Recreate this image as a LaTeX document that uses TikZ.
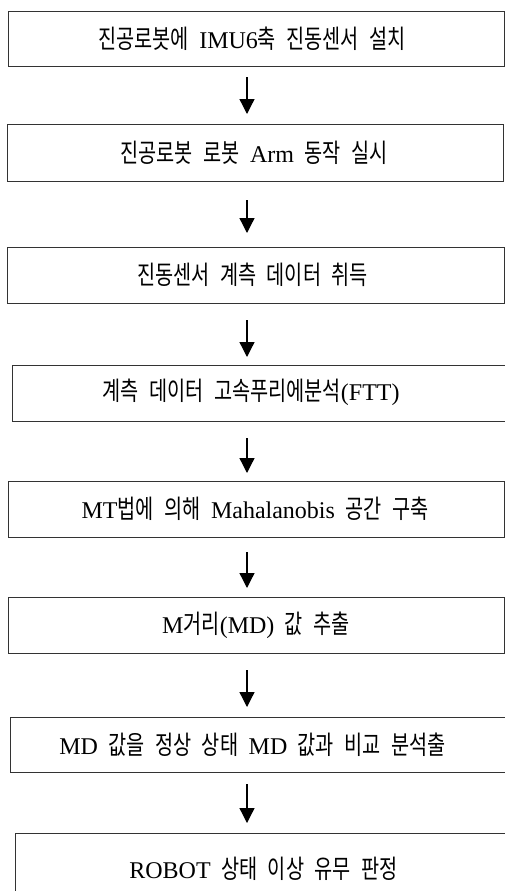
\documentclass[tikz,border=0pt]{standalone}
\usepackage{fontspec}
\setmainfont{Liberation Serif}
\newfontfamily\hkfont[FakeStretch=0.76,Scale=1.08]{Noto Sans CJK KR}
\newcommand{\hk}[1]{{\hkfont #1}}
\newcommand{\lblfont}{\fontsize{24}{28}\selectfont\spaceskip 10.5pt plus 1pt\relax}
\usetikzlibrary{arrows.meta}
\tikzset{
  box/.style={draw=black!80, line width=1.1pt, inner sep=0pt, anchor=north west},
  lbl/.style={inner sep=0pt, font=\lblfont},
  arr/.style={line width=1.3pt, -{Triangle[width=15pt,length=15pt]}}
}
\begin{document}
\begin{tikzpicture}[x=1pt,y=-1pt]
\useasboundingbox (0,0) rectangle (505,891);
\clip (0,0) rectangle (505,891);
\fill[white] (0,0) rectangle (505,891);
\coordinate (ax) at (247,0);
% boxes
\node[box, minimum width=496pt, minimum height=55pt] (b1) at (8,11) {};
\node[box, minimum width=496pt, minimum height=57pt] (b2) at (7,124) {};
\node[box, minimum width=497pt, minimum height=56pt] (b3) at (7,247) {};
\node[box, minimum width=500pt, minimum height=56pt] (b4) at (12,365) {};
\node[box, minimum width=496pt, minimum height=56pt] (b5) at (8,481) {};
\node[box, minimum width=496pt, minimum height=56pt] (b6) at (8,597) {};
\node[box, minimum width=500pt, minimum height=55pt] (b7) at (10,717) {};
\node[box, minimum width=500pt, minimum height=80pt] (b8) at (15,833) {};
% labels
\node[lbl] (t1) at (252,38.5) {\hk{진공로봇에} IMU6\hk{축} \hk{진동센서} \hk{설치}};
\node[lbl] (t2) at (254,152.5) {\hk{진공로봇} \hk{로봇} Arm \hk{동작} \hk{실시}};
\node[lbl] (t3) at (252.5,275) {\hk{진동센서} \hk{계측} \hk{데이터} \hk{취득}};
\node[lbl] (t4) at (251,392) {\hk{계측} \hk{데이터} \hk{고속푸리에분석}(FTT)};
\node[lbl] (t5) at (255,509) {MT\hk{법에} \hk{의해} Mahalanobis \hk{공간} \hk{구축}};
\node[lbl] (t6) at (256,625) {M\hk{거리}(MD) \hk{값} \hk{추출}};
\node[lbl] (t7) at (252.5,744.5) {MD \hk{값을} \hk{정상} \hk{상태} MD \hk{값과} \hk{비교} \hk{분석출}};
\node[lbl] (t8) at (263.5,869) {ROBOT \hk{상태} \hk{이상} \hk{유무} \hk{판정}};
% arrows
\draw[arr, shorten <=10pt, shorten >=10pt] (b1.south -| ax) -- (b2.north -| ax);
\draw[arr, shorten <=18pt, shorten >=14pt] (b2.south -| ax) -- (b3.north -| ax);
\draw[arr, shorten <=16pt, shorten >=8pt] (b3.south -| ax) -- (b4.north -| ax);
\draw[arr, shorten <=16pt, shorten >=8pt] (b4.south -| ax) -- (b5.north -| ax);
\draw[arr, shorten <=14pt, shorten >=9pt] (b5.south -| ax) -- (b6.north -| ax);
\draw[arr, shorten <=16pt, shorten >=10pt] (b6.south -| ax) -- (b7.north -| ax);
\draw[arr, shorten <=11pt, shorten >=10pt] (b7.south -| ax) -- (b8.north -| ax);
\end{tikzpicture}
\end{document}
